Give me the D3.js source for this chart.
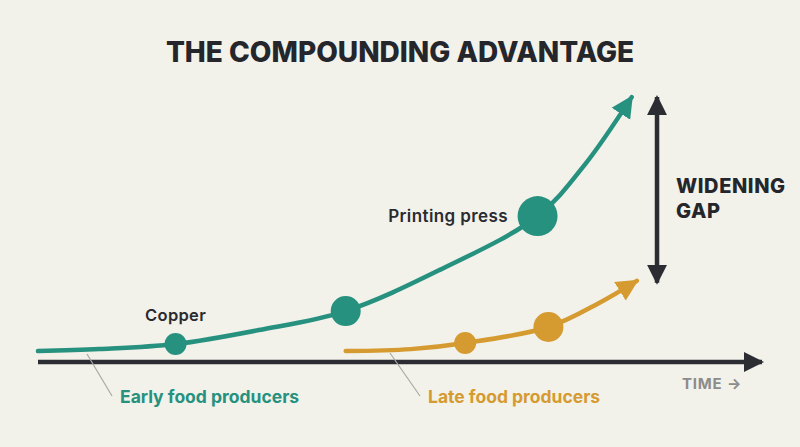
<!DOCTYPE html>
<html>
<head>
<meta charset="utf-8">
<script src="https://cdn.jsdelivr.net/npm/d3@7"></script>
<style>
  body { margin: 0; background: #f2f1ea; }
  svg { display: block; }
  text { font-family: Inter, "Open Sans", sans-serif; }
</style>
</head>
<body>
<svg id="chart" width="800" height="447"></svg>
<script>
// time / value points
var earlyT   = [0, 8.5, 19, 30.5, 42.5, 55.5, 69, 75.5, 82];
var earlyV   = [3.9, 4.6, 6.4, 11.4, 18.2, 32.9, 52.1, 70.4, 94.6];
var lateT    = [42.5, 51.5, 59, 70.5, 77.5, 82.7];
var lateV    = [3.9, 4.6, 6.8, 12.5, 21.1, 29];
// milestone dots: index into the series, and size
var earlyDots = [2, 4, 6];
var earlyDotR = [11, 15, 20];
var lateDots  = [2, 3];
var lateDotR  = [11, 15];
var gapT = 85.5;

var W = 800, H = 447;
var teal = "#26917f", gold = "#d59b30", ink = "#2b2d33";

var svg = d3.select("#chart");
svg.append("rect").attr("width", W).attr("height", H).attr("fill", "#f2f1ea");

var x = d3.scaleLinear().domain([0, 100]).range([38, 762]);
var y = d3.scaleLinear().domain([0, 100]).range([362, 82]);

var defs = svg.append("defs");
function arrowMarker(id, col, len, wid, orient) {
  defs.append("marker")
    .attr("id", id)
    .attr("markerUnits", "userSpaceOnUse")
    .attr("viewBox", "0 -10 20 20")
    .attr("refX", 18).attr("refY", 0)
    .attr("markerWidth", len).attr("markerHeight", wid)
    .attr("orient", orient || "auto")
    .append("path")
    .attr("d", "M0,-10L20,0L0,10Z")
    .attr("fill", col);
}
arrowMarker("arTeal", teal, 22, 24);
arrowMarker("arGold", gold, 22, 22);
arrowMarker("arInk", ink, 20, 20);
arrowMarker("arInkStart", ink, 20, 20, "auto-start-reverse");

// title
svg.append("text")
  .attr("x", 400).attr("y", 62)
  .attr("text-anchor", "middle")
  .attr("font-size", 28).attr("font-weight", 800)
  .attr("fill", "#25262b")
  .text("THE COMPOUNDING ADVANTAGE");

// time axis
svg.append("line")
  .attr("x1", x(0)).attr("x2", x(100))
  .attr("y1", y(0)).attr("y2", y(0))
  .attr("stroke", ink).attr("stroke-width", 4.5)
  .attr("marker-end", "url(#arInk)");

svg.append("text")
  .attr("x", 742).attr("y", 389)
  .attr("text-anchor", "end")
  .attr("font-size", 15).attr("font-weight", 700)
  .attr("letter-spacing", 0.8)
  .attr("fill", "#8c8c8a")
  .text("TIME \u2192");

var line = d3.line().curve(d3.curveCatmullRom.alpha(0.5));

function series(ts, vs, col, marker, dots, radii) {
  var pts = ts.map(function (t, i) { return [x(t), y(vs[i])]; });
  svg.append("path")
    .attr("d", line(pts))
    .attr("fill", "none")
    .attr("stroke", col).attr("stroke-width", 4.5)
    .attr("stroke-linecap", "round")
    .attr("marker-end", "url(#" + marker + ")");
  svg.selectAll(null).data(dots).enter().append("circle")
    .attr("cx", function (d) { return pts[d][0]; })
    .attr("cy", function (d) { return pts[d][1]; })
    .attr("r", function (d, i) { return radii[i]; })
    .attr("fill", col);
  return pts;
}
var ep = series(earlyT, earlyV, teal, "arTeal", earlyDots, earlyDotR);
var lp = series(lateT, lateV, gold, "arGold", lateDots, lateDotR);

// gap arrow
svg.append("line")
  .attr("x1", x(gapT)).attr("x2", x(gapT))
  .attr("y1", y(earlyV[earlyV.length - 1])).attr("y2", y(lateV[lateV.length - 1]) + 2)
  .attr("stroke", ink).attr("stroke-width", 4.5)
  .attr("marker-start", "url(#arInkStart)")
  .attr("marker-end", "url(#arInk)");

var gapLbl = svg.append("text")
  .attr("x", 676).attr("y", 193)
  .attr("font-size", 20).attr("font-weight", 800)
  .attr("letter-spacing", 0.6)
  .attr("fill", "#25262b");
gapLbl.append("tspan").attr("x", 676).text("WIDENING");
gapLbl.append("tspan").attr("x", 676).attr("dy", 25).text("GAP");

// milestone labels
svg.append("text")
  .attr("x", ep[2][0]).attr("y", 321)
  .attr("text-anchor", "middle")
  .attr("font-size", 16.5).attr("font-weight", 600)
  .attr("letter-spacing", 0.3)
  .attr("fill", "#2a2b30")
  .text("Copper");
svg.append("text")
  .attr("x", 508).attr("y", 222)
  .attr("text-anchor", "end")
  .attr("font-size", 17).attr("font-weight", 600)
  .attr("letter-spacing", 0.4)
  .attr("fill", "#2a2b30")
  .text("Printing press");

// series labels with leader lines
svg.append("line")
  .attr("x1", 87).attr("y1", 354).attr("x2", 112).attr("y2", 396)
  .attr("stroke", "#a9a9a6").attr("stroke-width", 1.2);
svg.append("text")
  .attr("x", 120).attr("y", 403)
  .attr("font-size", 17.5).attr("font-weight", 700)
  .attr("fill", teal)
  .text("Early food producers");

svg.append("line")
  .attr("x1", 390).attr("y1", 353).attr("x2", 420).attr("y2", 396)
  .attr("stroke", "#a9a9a6").attr("stroke-width", 1.2);
svg.append("text")
  .attr("x", 428).attr("y", 403)
  .attr("font-size", 17.5).attr("font-weight", 700)
  .attr("fill", gold)
  .text("Late food producers");
</script>
</body>
</html>
